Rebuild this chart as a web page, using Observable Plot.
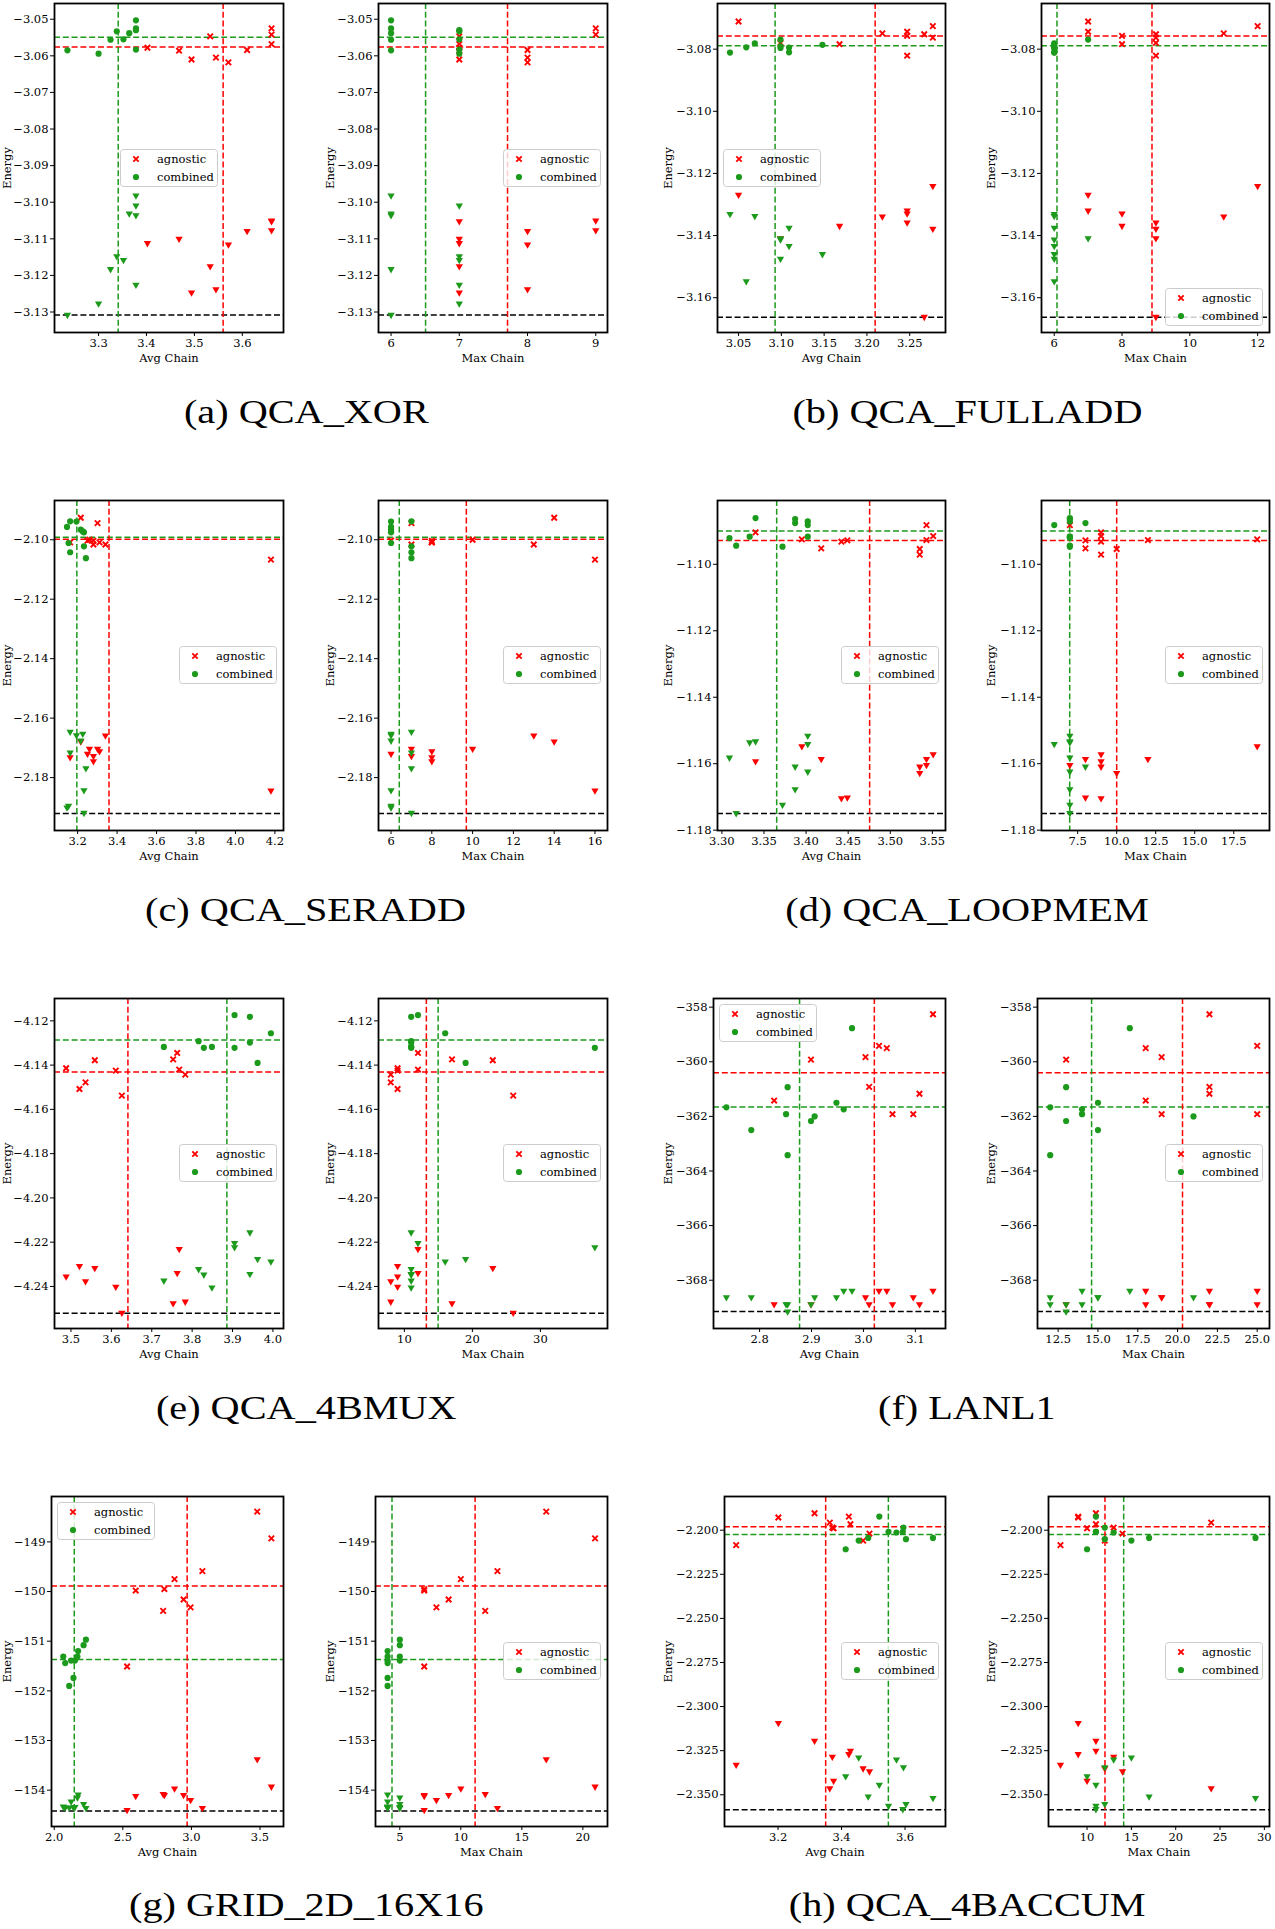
<!DOCTYPE html>
<html><head><meta charset="utf-8">
<script src="https://cdn.jsdelivr.net/npm/d3@7"></script>
<script src="https://cdn.jsdelivr.net/npm/@observablehq/plot@0.6"></script>
<style>
body{margin:0;background:#fff;}
#root{position:relative;width:1275px;height:1929px;overflow:hidden;background:#fff;}
.panel{position:absolute;}
.legend{position:absolute;}
.caption{position:absolute;width:600px;text-align:center;font-family:"Liberation Serif",serif;font-size:33px;line-height:1;white-space:nowrap;color:#000;}
.caption span{display:inline-block;transform:scaleX(1.22);}
</style></head><body><div id="root"></div>
<script>
// Each run: [avg chain, max chain, energy (cross / dot), energy (triangle)]
// (a) QCA_XOR
const xorAgnostic = [
 [3.402,7,-3.0578,-3.1112],[3.468,7,-3.0586,-3.1100],[3.494,7,-3.0610,-3.1247],
 [3.533,7,-3.0547,-3.1175],[3.545,8,-3.0605,-3.1238],[3.571,8,-3.0618,-3.1116],
 [3.610,8,-3.0584,-3.1079],[3.661,9,-3.0525,-3.1050],[3.661,9,-3.0542,-3.1077],
 [3.661,7,-3.0568,-3.1052]];
const xorCombined = [
 [3.235,6,-3.0585,-3.1308],[3.300,7,-3.0594,-3.1277],[3.325,6,-3.0556,-3.1183],
 [3.338,7,-3.0533,-3.1148],[3.352,7,-3.0555,-3.1158],[3.364,6,-3.0538,-3.1031],
 [3.378,6,-3.0503,-3.0982],[3.378,6,-3.0525,-3.1036],[3.378,7,-3.0583,-3.1226],
 [3.378,7,-3.0530,-3.1009]];
// reference lines: [agnostic avg, agnostic max, agnostic energy, combined avg, combined max, combined energy, best energy]
const xorRefs = [3.560, 7.707, -3.0576, 3.341, 6.506, -3.0549, -3.1308];
const xorEnergyTicks = [-3.05,-3.06,-3.07,-3.08,-3.09,-3.10,-3.11,-3.12,-3.13];
const xorAvgTicks = [3.3,3.4,3.5,3.6];
const xorMaxTicks = [6,7,8,9];

// (b) QCA_FULLADD
const fulladdAgnostic = [
 [3.050,7,-3.0711,-3.1269],[3.099,9,-3.0780,-3.1409],[3.168,8,-3.0784,-3.1369],
 [3.218,11,-3.0749,-3.1339],[3.247,7,-3.0744,-3.1320],[3.247,8,-3.0757,-3.1329],
 [3.247,9,-3.0821,-3.1358],[3.267,9,-3.0752,-3.1662],[3.277,12,-3.0726,-3.1241],
 [3.277,9,-3.0763,-3.1378]];
const fulladdCombined = [
 [3.040,6,-3.0811,-3.1331],[3.059,6,-3.0794,-3.1547],[3.069,6,-3.0781,-3.1337],
 [3.099,7,-3.0769,-3.1409],[3.099,6,-3.0791,-3.1413],[3.099,6,-3.0796,-3.1475],
 [3.109,6,-3.0795,-3.1375],[3.109,6,-3.0810,-3.1434],[3.148,6,-3.0786,-3.1460]];
const fulladdRefs = [3.2096, 8.884, -3.0758, 3.0927, 6.082, -3.0789, -3.1663];
const fulladdEnergyTicks = [-3.08,-3.10,-3.12,-3.14,-3.16];
const fulladdAvgTicks = [3.05,3.10,3.15,3.20,3.25];
const fulladdMaxTicks = [6,8,10,12];

// (c) QCA_SERADD
const seraddAgnostic = [
 [3.162,8,-2.1009,-2.1732],[3.216,14,-2.0926,-2.1679],[3.250,6,-2.1003,-2.1720],
 [3.260,10,-2.1000,-2.1703],[3.280,7,-2.1016,-2.1728],[3.280,8,-2.1004,-2.1745],
 [3.301,7,-2.0944,-2.1703],[3.311,8,-2.1009,-2.1712],[3.341,13,-2.1016,-2.1659],
 [4.180,16,-2.1067,-2.1844]];
const seraddCombined = [
 [3.146,6,-2.0957,-2.1901],[3.154,6,-2.1011,-2.1895],[3.162,7,-2.0938,-2.1646],
 [3.162,7,-2.1042,-2.1716],[3.194,6,-2.0939,-2.1658],[3.216,6,-2.0966,-2.1676],
 [3.226,6,-2.0972,-2.1653],[3.242,7,-2.1062,-2.1769],[3.232,6,-2.0975,-2.1843],
 [3.232,7,-2.1022,-2.1919]];
const seraddRefs = [3.359, 9.692, -2.0998, 3.196, 6.404, -2.0992, -2.1921];
const seraddEnergyTicks = [-2.10,-2.12,-2.14,-2.16,-2.18];
const seraddAvgTicks = [3.2,3.4,3.6,3.8,4.0,4.2];
const seraddMaxTicks = [6,8,10,12,14,16];

// (d) QCA_LOOPMEM
const loopmemAgnostic = [
 [3.340,9,-1.0904,-1.1593],[3.395,19,-1.0925,-1.1548],[3.418,8,-1.0952,-1.1586],
 [3.442,9,-1.0932,-1.1704],[3.449,8,-1.0928,-1.1702],[3.535,10,-1.0954,-1.1628],
 [3.535,9,-1.0971,-1.1609],[3.543,7,-1.0882,-1.1604],[3.543,12,-1.0927,-1.1586],
 [3.551,9,-1.0915,-1.1572]];
const loopmemCombined = [
 [3.309,7,-1.0921,-1.1582],[3.317,7,-1.0944,-1.1749],[3.333,7,-1.0917,-1.1536],
 [3.340,7,-1.0861,-1.1533],[3.372,7,-1.0947,-1.1724],[3.387,8,-1.0876,-1.1609],
 [3.387,7,-1.0864,-1.1677],[3.402,7,-1.0871,-1.1516],[3.402,6,-1.0882,-1.1541],
 [3.402,7,-1.0917,-1.1624]];
const loopmemRefs = [3.4755, 10.0, -1.0928, 3.3651, 6.99, -1.0900, -1.1750];
const loopmemEnergyTicks = [-1.10,-1.12,-1.14,-1.16,-1.18];
const loopmemAvgTicks = [3.30,3.35,3.40,3.45,3.50,3.55];
const loopmemMaxTicks = [7.5,10,12.5,15,17.5];

// (e) QCA_4BMUX
const muxAgnostic = [
 [3.488,9,-4.1414,-4.2355],[3.521,9,-4.1508,-4.2308],[3.536,8,-4.1478,-4.2377],
 [3.559,23,-4.1378,-4.2317],[3.611,9,-4.1425,-4.2402],[3.626,26,-4.1538,-4.2519],
 [3.753,17,-4.1374,-4.2476],[3.763,12,-4.1345,-4.2340],[3.768,12,-4.1420,-4.2231],
 [3.783,8,-4.1443,-4.2469]];
const muxCombined = [
 [3.730,11,-4.1318,-4.2374],[3.816,11,-4.1292,-4.2322],[3.829,11,-4.1322,-4.2347],
 [3.849,11,-4.1318,-4.2405],[3.905,12,-4.1174,-4.2204],[3.905,38,-4.1322,-4.2223],
 [3.943,11,-4.1182,-4.2156],[3.943,11,-4.1298,-4.2344],[3.962,19,-4.1390,-4.2276],
 [3.995,16,-4.1256,-4.2288]];
const muxRefs = [3.641, 13.23, -4.1431, 3.886, 14.96, -4.1286, -4.2521];
const muxEnergyTicks = [-4.12,-4.14,-4.16,-4.18,-4.20,-4.22,-4.24];
const muxAvgTicks = [3.5,3.6,3.7,3.8,3.9,4.0];
const muxMaxTicks = [10,20,30];

// (f) LANL1
const lanlAgnostic = [
 [2.828,18,-361.42,-368.88],[2.899,13,-359.92,-368.88],[3.004,19,-359.83,-368.63],
 [3.011,22,-360.92,-368.88],[3.030,25,-359.42,-368.39],[3.045,18,-359.50,-368.39],
 [3.056,25,-361.92,-368.88],[3.096,19,-361.92,-368.63],[3.108,22,-361.17,-368.88],
 [3.134,22,-358.26,-368.39]];
const lanlCombined = [
 [2.736,12,-361.67,-368.63],[2.784,15,-362.50,-368.63],[2.851,14,-361.92,-368.88],
 [2.854,13,-360.93,-369.15],[2.854,12,-363.42,-368.88],[2.899,13,-362.17,-368.88],
 [2.906,21,-362.00,-368.63],[2.948,15,-361.50,-368.63],[2.962,14,-361.74,-368.39],
 [2.978,17,-358.77,-368.39]];
const lanlRefs = [3.021, 20.31, -360.40, 2.877, 14.60, -361.66, -369.15];
const lanlEnergyTicks = [-358,-360,-362,-364,-366,-368];
const lanlAvgTicks = [2.8,2.9,3.0,3.1];
const lanlMaxTicks = [12.5,15,17.5,20,22.5,25];

// (g) GRID_2D_16X16
const gridAgnostic = [
 [2.531,7,-151.51,-154.40],[2.594,7,-149.98,-154.12],[2.794,12,-150.39,-154.08],
 [2.803,7,-149.95,-154.10],[2.877,10,-149.75,-153.97],[2.943,9,-150.16,-154.10],
 [2.994,8,-150.32,-154.20],[3.080,13,-149.59,-154.36],[3.480,17,-148.39,-153.38],
 [3.583,21,-148.93,-153.93]];
const gridCombined = [
 [2.066,4,-151.31,-154.33],[2.080,4,-151.44,-154.35],[2.109,4,-151.90,-154.35],
 [2.123,4,-151.39,-154.23],[2.140,4,-151.74,-154.35],[2.151,5,-151.39,-154.34],
 [2.169,5,-151.31,-154.15],[2.174,4,-151.20,-154.09],[2.214,5,-151.08,-154.28],
 [2.231,5,-150.97,-154.36]];
const gridRefs = [2.969, 11.17, -149.89, 2.146, 4.36, -151.37, -154.42];
const gridEnergyTicks = [-149,-150,-151,-152,-153,-154];
const gridAvgTicks = [2.0,2.5,3.0,3.5];
const gridMaxTicks = [5,10,15,20];

// (h) QCA_4BACCUM
const accumAgnostic = [
 [3.068,7,-2.2085,-2.3330],[3.201,9,-2.1928,-2.3094],[3.315,11,-2.1904,-2.3194],
 [3.363,24,-2.1957,-2.3463],[3.371,13,-2.1985,-2.3285],[3.375,10,-2.1989,-2.3421],
 [3.423,9,-2.1923,-2.3270],[3.428,11,-2.1966,-2.3251],[3.468,12,-2.2059,-2.3351],
 [3.488,14,-2.2019,-2.3368]];
const accumCombined = [
 [3.413,10,-2.2108,-2.3396],[3.454,15,-2.2059,-2.3289],[3.484,17,-2.2044,-2.3510],
 [3.519,11,-2.1923,-2.3444],[3.548,11,-2.2009,-2.3563],[3.573,13,-2.2013,-2.3300],
 [3.593,11,-2.2009,-2.3582],[3.595,12,-2.1985,-2.3345],[3.603,12,-2.2051,-2.3553],
 [3.688,29,-2.2044,-2.3519]];
const accumRefs = [3.350, 12.02, -2.1981, 3.5475, 14.13, -2.2025, -2.3585];
const accumEnergyTicks = [-2.200,-2.225,-2.250,-2.275,-2.300,-2.325,-2.350];
const accumAvgTicks = [3.2,3.4,3.6];
const accumMaxTicks = [10,15,20,25,30];

const captions = ["(a) QCA_XOR","(b) QCA_FULLADD","(c) QCA_SERADD","(d) QCA_LOOPMEM",
                  "(e) QCA_4BMUX","(f) LANL1","(g) GRID_2D_16X16","(h) QCA_4BACCUM"];
const seriesNames = ["agnostic","combined"];

// ---- layout / styling ----
const RED = "#ff0000", GREEN = "#1c9a1c";
const FONT = "'DejaVu Serif', 'Liberation Serif', serif";
const DASH = "6,2.8";
const figs = [
 {agn:xorAgnostic, cmb:xorCombined, refs:xorRefs, yd:[-3.1356,-3.0457], yt:xorEnergyTicks, yf:".2f",
  ad:[3.208,3.686], at:xorAvgTicks, af:".1f", md:[5.816,9.172], mt:xorMaxTicks, mf:"d",
  L:[54,283], R:[378,607], T:3, B:332, leg:["center","right"], cx:306, base:424, px:0},
 {agn:fulladdAgnostic, cmb:fulladdCombined, refs:fulladdRefs, yd:[-3.1712,-3.0653], yt:fulladdEnergyTicks, yf:".2f",
  ad:[3.0254,3.2918], at:fulladdAvgTicks, af:".2f", md:[5.625,12.35], mt:fulladdMaxTicks, mf:"d",
  L:[717,945], R:[1041,1269], T:3, B:332, leg:["left","lowerright"], cx:967, base:424, px:661},
 {agn:seraddAgnostic, cmb:seraddCombined, refs:seraddRefs, yd:[-2.1978,-2.0868], yt:seraddEnergyTicks, yf:".2f",
  ad:[3.0827,4.2437], at:seraddAvgTicks, af:".1f", md:[5.385,16.615], mt:seraddMaxTicks, mf:"d",
  L:[54,283], R:[378,607], T:500, B:830, leg:["right","right"], cx:306, base:922, px:0},
 {agn:loopmemAgnostic, cmb:loopmemCombined, refs:loopmemRefs, yd:[-1.1801,-1.0808], yt:loopmemEnergyTicks, yf:".2f",
  ad:[3.2948,3.5656], at:loopmemAvgTicks, af:".2f", md:[5.184,19.79], mt:loopmemMaxTicks, mf:".1f",
  L:[717,945], R:[1041,1269], T:500, B:830, leg:["right","right"], cx:967, base:922, px:661},
 {agn:muxAgnostic, cmb:muxCombined, refs:muxRefs, yd:[-4.2590,-4.1099], yt:muxEnergyTicks, yf:".2f",
  ad:[3.4592,4.0262], at:muxAvgTicks, af:".1f", md:[6.196,39.86], mt:muxMaxTicks, mf:"d",
  L:[54,283], R:[378,607], T:998, B:1328, leg:["right","right"], cx:306, base:1420, px:0},
 {agn:lanlAgnostic, cmb:lanlCombined, refs:lanlRefs, yd:[-369.768,-357.683], yt:lanlEnergyTicks, yf:"d",
  ad:[2.7112,3.1581], at:lanlAvgTicks, af:".1f", md:[11.203,25.773], mt:lanlMaxTicks, mf:".1f",
  L:[713,945], R:[1037,1269], T:998, B:1328, leg:["upperleft","right"], cx:967, base:1420, px:661},
 {agn:gridAgnostic, cmb:gridCombined, refs:gridRefs, yd:[-154.732,-148.086], yt:gridEnergyTicks, yf:"d",
  ad:[1.98,3.6714], at:gridAvgTicks, af:".1f", md:[3.008,22.02], mt:gridMaxTicks, mf:"d",
  L:[51,283], R:[375,607], T:1496, B:1826, leg:["upperleft","right"], cx:306, base:1917, px:0},
 {agn:accumAgnostic, cmb:accumCombined, refs:accumRefs, yd:[-2.3680,-2.1809], yt:accumEnergyTicks, yf:".3f",
  ad:[3.0313,3.7275], at:accumAvgTicks, af:".1f", md:[5.65,30.58], mt:accumMaxTicks, mf:"d",
  L:[724,945], R:[1048,1269], T:1496, B:1826, leg:["right","right"], cx:967, base:1917, px:661}
];

const triangleDown = {
  draw(context, size) {
    const y = Math.sqrt(size / (Math.sqrt(3) * 3));
    context.moveTo(0, y * 2);
    context.lineTo(-Math.sqrt(3) * y, -y);
    context.lineTo(Math.sqrt(3) * y, -y);
    context.closePath();
  }
};

const root = document.getElementById("root");
const ML = 66, MR = 6, MT = 6, MB = 40;

function drawPanel(f, which) {
  const xi = which;               // 0: avg chain, 1: max chain
  const [fx0, fx1] = which === 0 ? f.L : f.R;
  const w = fx1 - fx0 + ML + MR, h = f.B - f.T + MT + MB;
  const energyCenter = f.px + (which === 0 ? 8 : 331);
  const yLabelOffset = fx0 - energyCenter + 6;
  const rule = {strokeWidth: 1.5, strokeDasharray: DASH};
  const chart = Plot.plot({
    width: w, height: h, marginLeft: ML, marginRight: MR, marginTop: MT, marginBottom: MB,
    style: {fontFamily: FONT, fontSize: "11.5px", color: "black", background: "transparent", overflow: "visible"},
    x: {domain: which === 0 ? f.ad : f.md, label: null},
    y: {domain: f.yd, label: null},
    marks: [
      Plot.ruleY([f.refs[6]], {...rule, stroke: "black"}),
      Plot.ruleY([f.refs[2]], {...rule, stroke: RED}),
      Plot.ruleY([f.refs[5]], {...rule, stroke: GREEN}),
      Plot.ruleX([which === 0 ? f.refs[0] : f.refs[1]], {...rule, stroke: RED}),
      Plot.ruleX([which === 0 ? f.refs[3] : f.refs[4]], {...rule, stroke: GREEN}),
      Plot.dot(f.agn, {x: d => d[xi], y: d => d[2], symbol: "times", r: 2.6, stroke: RED, strokeWidth: 1.9}),
      Plot.dot(f.agn, {x: d => d[xi], y: d => d[3], symbol: triangleDown, r: 2.7, fill: RED, stroke: "none"}),
      Plot.dot(f.cmb, {x: d => d[xi], y: d => d[2], symbol: "circle", r: 3.1, fill: GREEN, stroke: "none"}),
      Plot.dot(f.cmb, {x: d => d[xi], y: d => d[3], symbol: triangleDown, r: 2.7, fill: GREEN, stroke: "none"}),
      Plot.axisX({ticks: which === 0 ? f.at : f.mt, tickFormat: d3.format(which === 0 ? f.af : f.mf),
        tickSize: 4, tickPadding: 2, label: which === 0 ? "Avg Chain" : "Max Chain",
        labelAnchor: "center", labelArrow: "none", labelOffset: 29}),
      Plot.axisY({ticks: f.yt, tickFormat: d3.format(f.yf), tickSize: 4, tickPadding: 2,
        label: "Energy", labelAnchor: "center", labelArrow: "none", labelOffset: yLabelOffset}),
      Plot.frame({stroke: "black", strokeWidth: 1.8})
    ]
  });
  const div = document.createElement("div");
  div.className = "panel";
  div.style.left = (fx0 - ML) + "px";
  div.style.top = (f.T - MT) + "px";
  div.appendChild(chart);
  root.appendChild(div);

  // legend
  const lw = 98, lh = 38, pad = 6, anchor = f.leg[which];
  let lx, ly;
  if (anchor === "right") { lx = fx1 - pad - lw; ly = (f.T + f.B) / 2 - lh / 2; }
  else if (anchor === "left") { lx = fx0 + pad; ly = (f.T + f.B) / 2 - lh / 2; }
  else if (anchor === "center") { lx = (fx0 + fx1) / 2 - lw / 2; ly = (f.T + f.B) / 2 - lh / 2; }
  else if (anchor === "lowerright") { lx = fx1 - pad - lw; ly = f.B - pad - lh; }
  else { lx = fx0 + pad; ly = f.T + pad; }
  const ns = "http://www.w3.org/2000/svg";
  const svg = document.createElementNS(ns, "svg");
  svg.setAttribute("width", lw); svg.setAttribute("height", lh);
  svg.setAttribute("class", "legend");
  svg.style.left = lx + "px"; svg.style.top = ly + "px";
  svg.innerHTML =
    `<rect x="0.5" y="0.5" width="${lw-1}" height="${lh-1}" rx="3" fill="white" fill-opacity="0.8" stroke="#cccccc"/>` +
    `<path d="M13.3,7.3L18.7,12.7M18.7,7.3L13.3,12.7" stroke="${RED}" stroke-width="1.9" fill="none"/>` +
    `<circle cx="16" cy="28" r="3.1" fill="${GREEN}"/>` +
    `<text x="37" y="10" dy="0.36em" style="font-family:${FONT};font-size:11.5px">${seriesNames[0]}</text>` +
    `<text x="37" y="28" dy="0.36em" style="font-family:${FONT};font-size:11.5px">${seriesNames[1]}</text>`;
  root.appendChild(svg);
}

figs.forEach((f, i) => {
  drawPanel(f, 0);
  drawPanel(f, 1);
  const cap = document.createElement("div");
  cap.className = "caption";
  cap.style.left = (f.cx - 300) + "px";
  cap.style.top = (f.base - 28) + "px";
  const span = document.createElement("span");
  span.textContent = captions[i];
  cap.appendChild(span);
  root.appendChild(cap);
});
</script></body></html>
